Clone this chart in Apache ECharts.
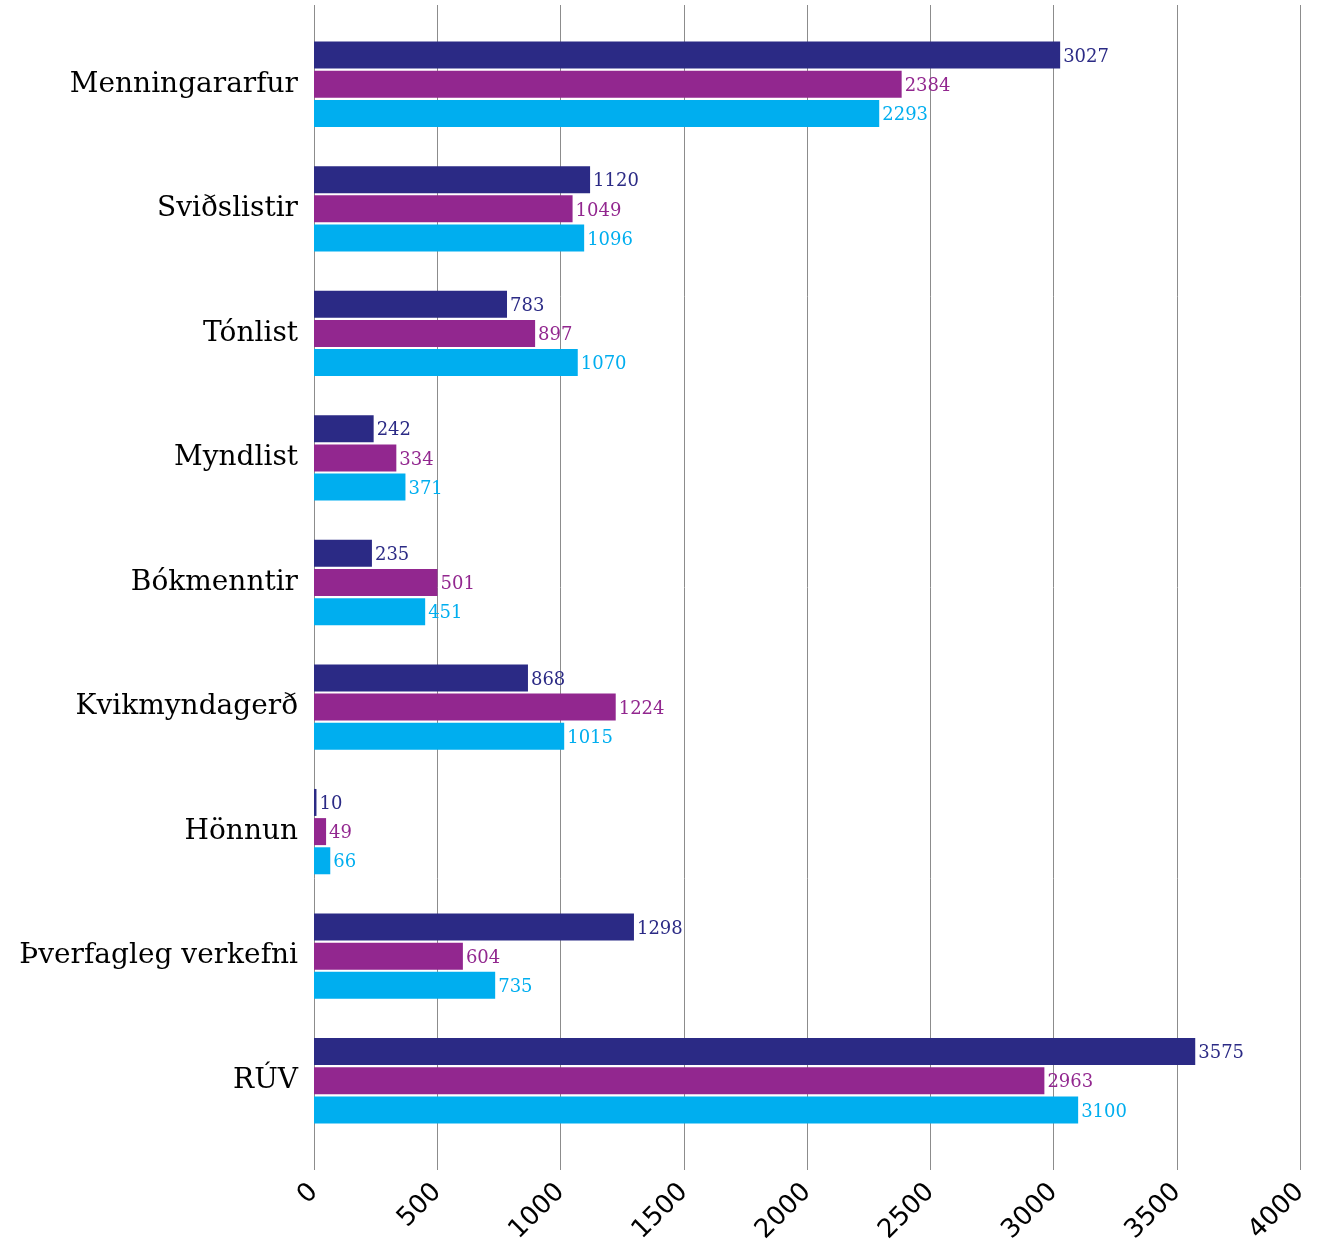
<!DOCTYPE html>
<html>
<head>
<meta charset="utf-8">
<script src="https://cdn.jsdelivr.net/npm/echarts@6/dist/echarts.min.js"></script>
<style>
  html, body { margin: 0; padding: 0; background: #fff; }
  #chart { width: 1320px; height: 1254px; }
</style>
</head>
<body>
<div id="chart"></div>
<script>
const categories = ['Menningararfur', 'Sviðslistir', 'Tónlist', 'Myndlist', 'Bókmenntir', 'Kvikmyndagerð', 'Hönnun', 'Þverfagleg verkefni', 'RÚV']
const seriesA = [3027, 1120, 783, 242, 235, 868, 10, 1298, 3575]
const seriesB = [2384, 1049, 897, 334, 501, 1224, 49, 604, 2963]
const seriesC = [2293, 1096, 1070, 371, 451, 1015, 66, 735, 3100]
const colors = ['#2b2a85', '#92278f', '#00aeef']

const chart = echarts.init(document.getElementById('chart'))

function barSeries (name, data, color) {
  return {
    name: name,
    type: 'bar',
    xAxisIndex: 0,
    yAxisIndex: 0,
    data: data,
    barWidth: 27,
    barGap: '8%',
    itemStyle: { color: color },
    label: {
      show: true,
      position: 'right',
      distance: 3,
      offset: [0, 2],
      color: color,
      fontFamily: 'DejaVu Serif',
      fontSize: 18
    }
  }
}

chart.setOption({
  animation: false,
  grid: [
    { left: 314, right: 20, top: 22, bottom: 111 },
    { left: 314, right: 20, top: 5, bottom: 84 }
  ],
  xAxis: [
    {
      gridIndex: 0,
      type: 'value',
      min: 0,
      max: 4000,
      interval: 500,
      axisLine: { show: false },
      axisTick: { show: false },
      axisLabel: { show: false },
      splitLine: { show: false }
    },
    {
      gridIndex: 1,
      type: 'value',
      min: 0,
      max: 4000,
      interval: 500,
      axisLine: { show: false },
      axisTick: { show: false },
      axisLabel: {
        rotate: 45,
        margin: 18,
        color: '#000',
        fontFamily: 'DejaVu Sans',
        fontSize: 26,
        formatter: v => String(v)
      },
      splitLine: { show: true, lineStyle: { color: '#8c8c8c', width: 1 } }
    }
  ],
  yAxis: [
    {
      gridIndex: 0,
      type: 'category',
      data: categories,
      inverse: true,
      axisLine: { show: false },
      axisTick: { show: false },
      axisLabel: {
        margin: 16,
        color: '#000',
        fontFamily: 'DejaVu Serif',
        fontSize: 28
      }
    },
    {
      gridIndex: 1,
      type: 'value',
      show: false
    }
  ],
  series: [
    barSeries('A', seriesA, colors[0]),
    barSeries('B', seriesB, colors[1]),
    barSeries('C', seriesC, colors[2])
  ]
})
</script>
</body>
</html>
